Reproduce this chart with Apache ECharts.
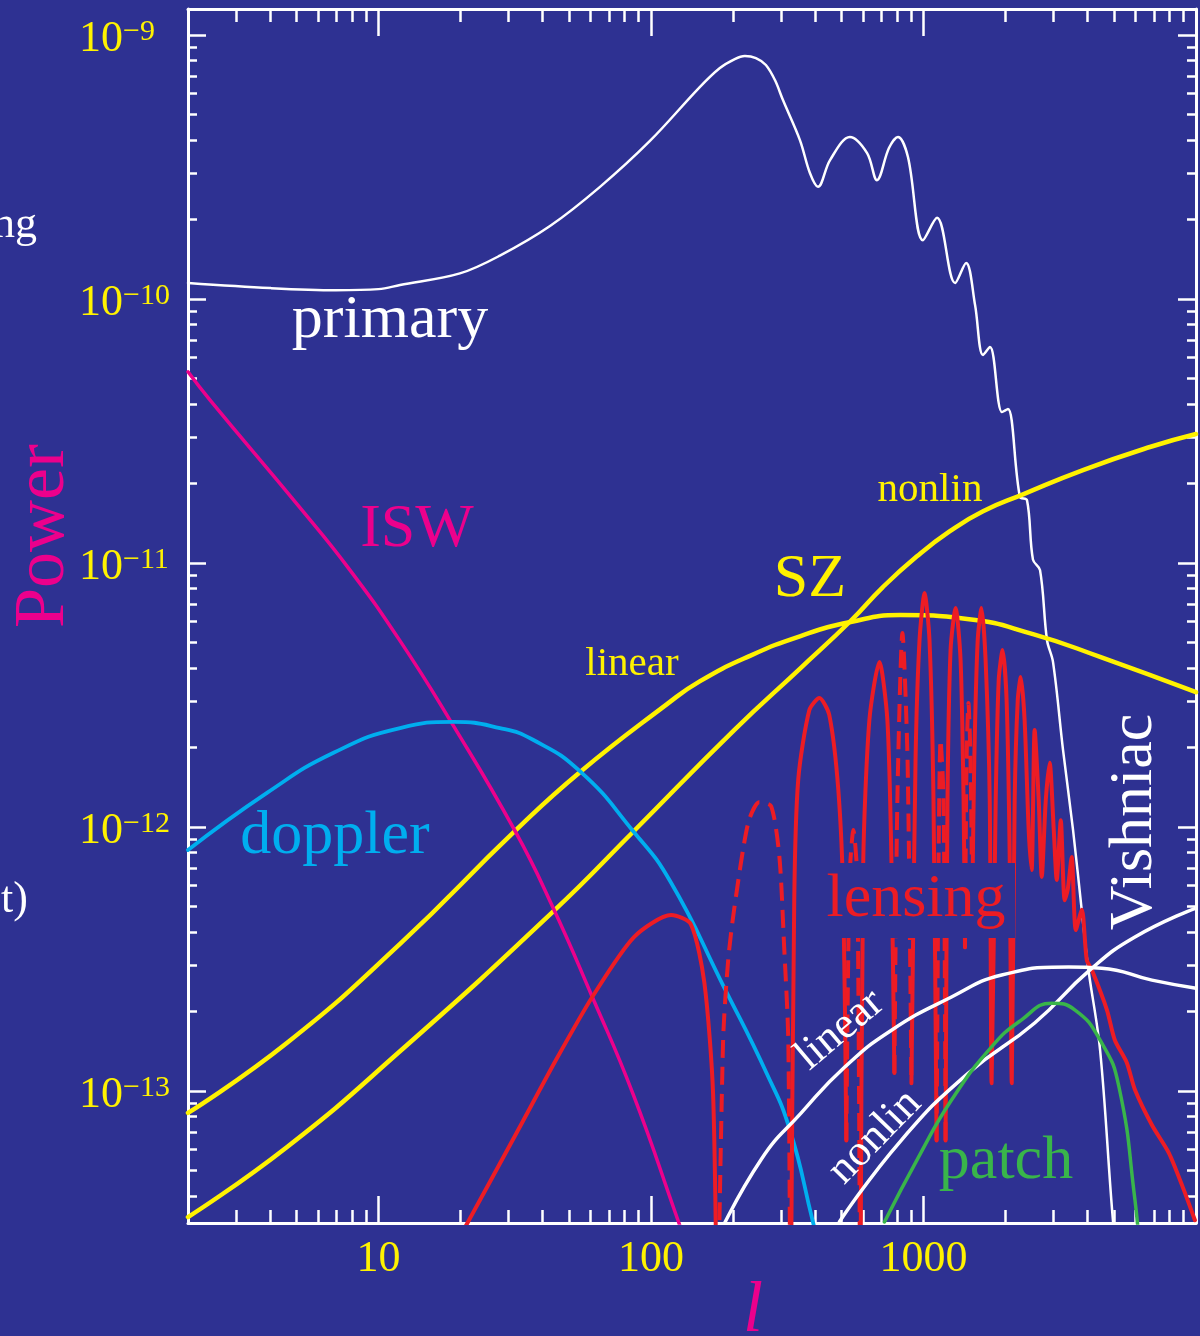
<!DOCTYPE html>
<html><head><meta charset="utf-8">
<script src="https://cdn.jsdelivr.net/npm/echarts@6/dist/echarts.min.js"></script>
<style>html,body{margin:0;padding:0;background:#2e3192;}#c{width:1200px;height:1336px;}</style>
</head><body><div id="c"></div>
<script>
// ---------- data (multipole l, power) ----------
const primaryL = [2,4,6.98,10,12,19.9,27.9,42.6,65,99.1,151,179,203,221,242.7,264,285,305,352,383,410,454,537,621,675,747,806,877,995,1121,1306,1433,1546,1653,1754,1941,2042,2259,2398,2522,2677,2840,2987,3251,3538,3818,4016,4446,4963,5177];
const primaryV = [1.15e-10,1.10e-10,1.08e-10,1.09e-10,1.13e-10,1.25e-10,1.46e-10,1.89e-10,2.66e-10,3.97e-10,6.35e-10,7.50e-10,8.11e-10,8.33e-10,8.18e-10,7.70e-10,6.75e-10,5.67e-10,4.0e-10,3.0e-10,2.66e-10,3.36e-10,4.11e-10,3.57e-10,2.82e-10,3.73e-10,4.11e-10,3.45e-10,1.67e-10,2.03e-10,1.15e-10,1.37e-10,9.5e-11,6.14e-11,6.58e-11,3.73e-11,3.83e-11,1.78e-11,1.73e-11,1.03e-11,9.4e-12,5.1e-12,4.22e-12,1.96e-12,9.75e-13,4.72e-13,2.95e-13,1.43e-13,3.19e-14,2.3e-14];

const iswL = [2,2.41,5.15,7.86,12.0,18.3,31.7,43.6,60.7,85.9,125.6,139];
const iswV = [5.3e-11,4.14e-11,1.62e-11,9.40e-12,5.07e-12,2.54e-12,9.66e-13,4.98e-13,2.29e-13,9.75e-14,3.24e-14,2.4e-14];

const dopplerL = [2,3.91,6.84,12.0,18.9,27.9,36.9,55.1,85.9,117.5,183.7,266.5,323.6,393,417];
const dopplerV = [8.18e-13,1.35e-12,1.91e-12,2.37e-12,2.50e-12,2.37e-12,2.14e-12,1.62e-12,9.66e-13,6.24e-13,2.52e-13,1.16e-13,7.11e-14,3.19e-14,2.5e-14];

const szLinL = [2,4.61,12.0,31.7,55.1,114.5,151.4,230.8,354,540,820,1445,2522,4446,10000];
const szLinV = [8.26e-14,1.52e-13,3.61e-13,9.66e-13,1.62e-12,2.92e-12,3.57e-12,4.45e-12,5.29e-12,5.98e-12,6.35e-12,6.14e-12,5.38e-12,4.41e-12,3.24e-12];

const szNonL = [2,4.62,12.05,44,86.6,202,354,540,709.6,946,1250,1654,2319,3848,6776,10000];
const szNonV = [3.33e-14,6.14e-14,1.42e-13,4.81e-13,9.66e-13,2.33e-12,4.0e-12,6.03e-12,8.11e-12,1.06e-11,1.32e-11,1.57e-11,1.82e-11,2.25e-11,2.75e-11,3.08e-11];

const vishLinL = [173,253,356,513,763,1267,1936,3413,4508,6890,10000];
const vishLinV = [2.7e-14,5.48e-14,8.26e-14,1.23e-13,1.70e-13,2.27e-13,2.75e-13,2.95e-13,2.92e-13,2.63e-13,2.45e-13];

const vishNonL = [491,830,1462,2558,4074,5970,10000];
const vishNonV = [3.19e-14,6.52e-14,1.17e-13,1.81e-13,2.87e-13,3.83e-13,4.93e-13];

const patchL = [719,959,1267,1778,2291,2958,3589,4508,5212,5970,6200];
const patchV = [3.19e-14,5.62e-14,9.24e-14,1.47e-13,1.86e-13,2.15e-13,2.03e-13,1.52e-13,1.04e-13,3.87e-14,2.5e-14];

// lensing: positive part (solid) and negative part (dashed, absolute value)
const lensL = [19.5,32.4,44.8,61.2,86.6,118.6,140,157,169,175,
  184,192,202,227,249.6,276,296,308,319,325,
  335.5,347,381,415,451,487,508,521,
  535,553,572,586,
  601,633,689,737,763,782,
  802,837,874,903,
  935,967,1009,1052,1088,1117,
  1135,1155,1185,1205,
  1225,1257,1312,1368,1403,1420,
  1439,1462,1488,1510,
  1536,1581,1633,1690,1750,1778,1841,1888,1951,2018,2070,2108,2161,2218,2275,2350,2432,2494,2558,2647,2716,2811,2904,3006,3083,3190,3296,3381,3499,3622,3811,3975,4150,4710,5035,5573,5970,6890,7954,8885,9910];
const lensPos = [2.7e-14,7.05e-14,1.31e-13,2.29e-13,3.83e-13,4.64e-13,4.29e-13,2.57e-13,9.75e-14,1e-14,
  null,null,null,null,null,null,null,null,null,1e-14,
  5.28e-13,1.51e-12,2.77e-12,3.08e-12,2.66e-12,1.38e-12,5.28e-13,6.5e-14,
  null,null,null,1e-14,
  7.3e-13,2.54e-12,4.22e-12,2.54e-12,7.3e-13,1.17e-13,
  null,null,null,1.07e-13,
  1.79e-12,5.10e-12,7.69e-12,5.10e-12,1.27e-12,6.5e-14,
  null,null,null,6.5e-14,
  1.27e-12,4.68e-12,6.76e-12,4.29e-12,1.27e-12,3.5e-13,
  null,null,null,5e-13,
  1.79e-12,5.10e-12,6.76e-12,4.29e-12,1.27e-12,1.07e-13,1.27e-12,3.6e-12,4.68e-12,3.03e-12,8.2e-13,1.07e-13,1.27e-12,3.03e-12,3.70e-12,2.54e-12,9.75e-13,6.87e-13,2.33e-12,1.27e-12,6.47e-13,1.27e-12,1.75e-12,9.75e-13,6.3e-13,1.06e-12,5.28e-13,5.77e-13,7.7e-13,4.07e-13,4.86e-13,3.13e-13,2.87e-13,2.03e-13,1.56e-13,1.28e-13,1.01e-13,7.43e-14,5.82e-14,4.4e-14,3.24e-14];
const lensNeg = [null,null,null,null,null,null,null,null,null,1e-14,
  1.57e-13,3.13e-13,4.89e-13,1.03e-12,1.24e-12,1.20e-12,7.7e-13,3.54e-13,1.57e-13,1e-14,
  null,null,null,null,null,null,null,6.5e-14,
  6.3e-13,9.75e-13,6.3e-13,1e-14,
  null,null,null,null,null,1.17e-13,
  1.27e-12,5.43e-12,1.79e-12,1.07e-13,
  null,null,null,null,null,6.5e-14,
  6.87e-13,2.14e-12,1.27e-12,6.5e-14,
  null,null,null,null,null,3.5e-13,
  1.79e-12,2.95e-12,1.79e-12,5e-13,
  null,null,null,null,null,null,null,null,null,null,null,null,null,null,null,null,null,null,null,null,null,null,null,null,null,null,null,null,null,null,null,null,null,null,null,null,null,null,null,null,null];

// axis ticks
const xMajor = [10, 100, 1000];
const xDecades = [1, 10, 100, 1000];
const yExps = [-13, -12, -11, -10, -9];

// ---------- chart ----------
const X_MIN = 2, X_MAX = 10000;
const Y_MIN = Math.pow(10, -13.5), Y_MAX = Math.pow(10, -8.9015);
const FONT = '"Liberation Serif","Times New Roman",Times,serif';
const BG = '#2e3192', YEL = '#fff200', MAG = '#ec008c', CYAN = '#00aeef', RED = '#ed1c24', GREEN = '#39b54a', WHITE = '#ffffff';

const xMinor = [];
xDecades.forEach(d => { for (let m = 2; m <= 9; m++) { const v = d * m; if (v > X_MIN && v < X_MAX) xMinor.push(v); } });
const yMajor = yExps.map(e => Number('1e' + e));
const yMinor = [];
[-14, -13, -12, -11, -10, -9].forEach(e => { for (let m = 2; m <= 9; m++) { const v = m * Number('1e' + e); if (v > Y_MIN && v < Y_MAX) yMinor.push(v); } });

function xAx(position, ticks, len, showLine, showLabel) {
  return {
    type: 'log', logBase: 10, min: X_MIN, max: X_MAX, position: position,
    axisLine: { show: showLine, onZero: false, lineStyle: { color: WHITE, width: 3 } },
    axisTick: { show: true, inside: true, length: len, customValues: ticks, lineStyle: { color: WHITE, width: 2.5 } },
    axisLabel: { show: showLabel, customValues: ticks, color: YEL, fontSize: 44, fontFamily: FONT, margin: 14,
      formatter: v => String(Math.round(v)) },
    splitLine: { show: false }, minorTick: { show: false }, minorSplitLine: { show: false }
  };
}
function yAx(position, ticks, len, showLine, showLabel) {
  return {
    type: 'log', logBase: 10, min: Y_MIN, max: Y_MAX, position: position,
    axisLine: { show: showLine, onZero: false, lineStyle: { color: WHITE, width: 3 } },
    axisTick: { show: true, inside: true, length: len, customValues: ticks, lineStyle: { color: WHITE, width: 2.5 } },
    axisLabel: { show: showLabel, customValues: ticks, align: 'left', margin: 109, padding: [8, 0, 0, 0],
      color: YEL, fontFamily: FONT, fontSize: 44,
      formatter: v => '{b|10}{s|\u2212' + Math.abs(Math.round(Math.log10(v))) + '}',
      rich: { b: { fontSize: 44, fontFamily: FONT, color: YEL },
              s: { fontSize: 30, fontFamily: FONT, color: YEL, verticalAlign: 'top' } } },
    splitLine: { show: false }, minorTick: { show: false }, minorSplitLine: { show: false }
  };
}
function pairs(L, V) { return L.map((l, i) => [l, V[i]]); }
function line(name, L, V, color, width, extra) {
  return Object.assign({
    type: 'line', name: name, data: pairs(L, V), symbol: 'none', showSymbol: false,
    smooth: 0.5, clip: true, silent: true, connectNulls: false,
    lineStyle: { color: color, width: width, cap: 'round', join: 'round' }
  }, extra || {});
}

function txt(text, x, y, size, color, rot, extra) {
  return {
    type: 'text', x: x, y: y, rotation: rot || 0, z: 100, silent: true,
    style: Object.assign({ text: text, fill: color, font: 'normal ' + size + 'px ' + FONT,
      align: 'center', verticalAlign: 'middle' }, extra || {})
  };
}

const chart = echarts.init(document.getElementById('c'), null, { renderer: 'canvas' });
chart.setOption({
  backgroundColor: BG,
  animation: false,
  grid: { left: 188, right: 4, top: 9, bottom: 113, containLabel: false, outerBoundsMode: 'none' },
  xAxis: [
    xAx('bottom', xMajor, 27, true, true),
    xAx('bottom', xMinor, 13, false, false),
    xAx('top', xMajor, 27, true, false),
    xAx('top', xMinor, 13, false, false)
  ],
  yAxis: [
    yAx('left', yMajor, 18, true, true),
    yAx('left', yMinor, 9, false, false),
    yAx('right', yMajor, 18, true, false),
    yAx('right', yMinor, 9, false, false)
  ],
  series: [
    line('primary', primaryL, primaryV, WHITE, 2.5, { smooth: 0.35 }),
    line('SZ linear', szLinL, szLinV, YEL, 4.5),
    line('SZ nonlin', szNonL, szNonV, YEL, 4.5),
    line('ISW', iswL, iswV, MAG, 3.5),
    line('doppler', dopplerL, dopplerV, CYAN, 3.8),
    line('lensing +', lensL, lensPos, RED, 4, { smooth: 0.25 }),
    line('lensing -', lensL, lensNeg, RED, 4, { smooth: 0.25, lineStyle: { color: RED, width: 4, type: [18, 9] } }),
    line('Vishniac linear', vishLinL, vishLinV, WHITE, 3.5),
    line('Vishniac nonlin', vishNonL, vishNonV, WHITE, 3.5),
    line('patch', patchL, patchV, GREEN, 3.5)
  ],
  graphic: { elements: [
    { type: 'rect', z: 99, silent: true, shape: { x: 822, y: 863, width: 193, height: 75 }, style: { fill: BG } },
    txt('primary', 390, 321, 62, WHITE),
    txt('ISW', 417, 530, 62, MAG),
    txt('SZ', 810, 580, 62, YEL),
    txt('nonlin', 930, 490, 41, YEL),
    txt('linear', 632, 664, 41, YEL),
    txt('doppler', 335, 837, 62, CYAN),
    txt('lensing', 916, 900, 62, RED),
    txt('Vishniac', 1135, 822, 62, WHITE, Math.PI / 2),
    txt('linear', 840, 1030, 44, WHITE, 0.70),
    txt('nonlin', 875, 1137, 44, WHITE, 0.80),
    txt('patch', 1006, 1162, 62, GREEN),
    txt('Power', 44, 536, 72, MAG, Math.PI / 2),
    txt('l', 753, 1312, 72, MAG, 0, { font: 'italic 72px ' + FONT }),
    txt('ng', 37, 225, 44, WHITE, 0, { align: 'right' }),
    txt('t)', 28, 900, 44, WHITE, 0, { align: 'right' })
  ] }
});
</script>
</body></html>
